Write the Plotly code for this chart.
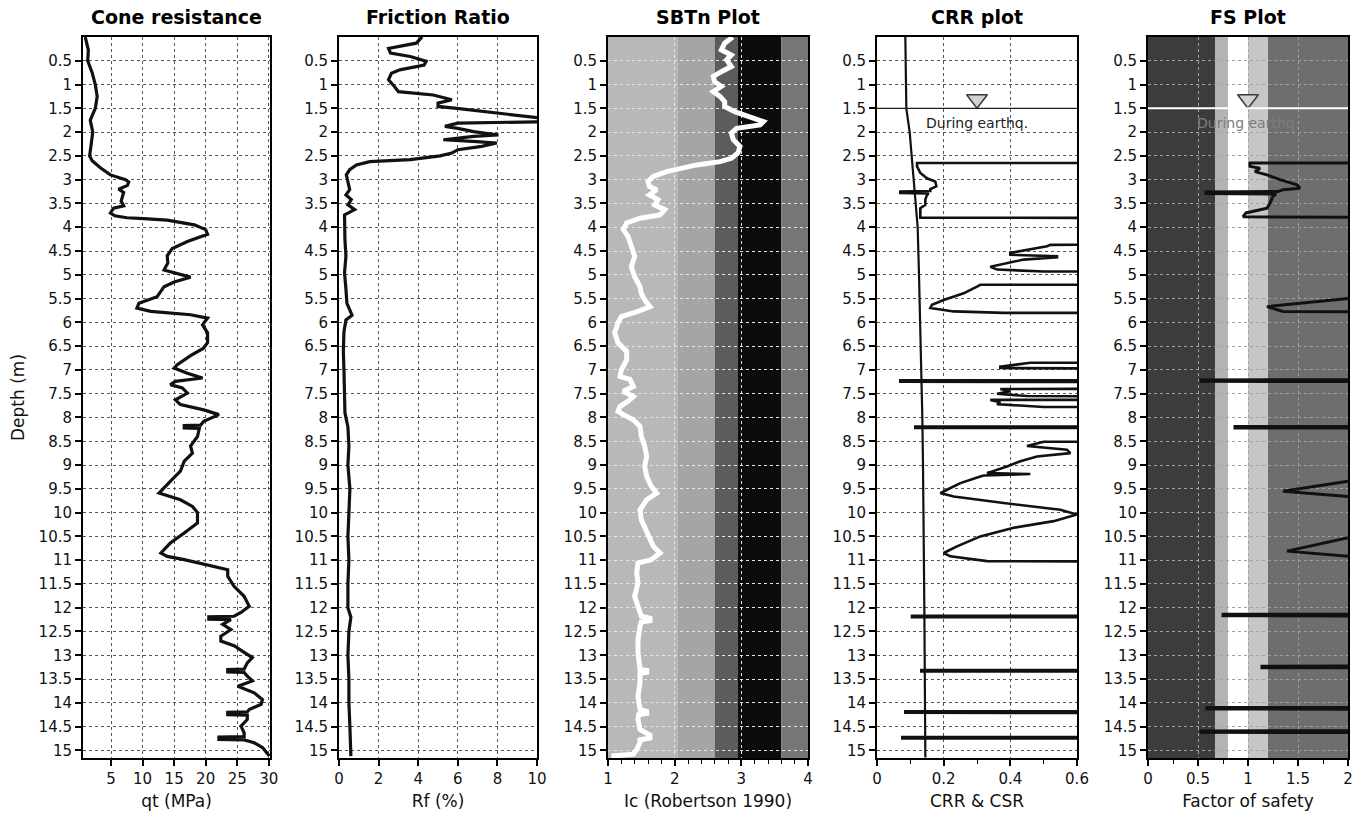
import plotly.graph_objects as go

# ---------------- data ----------------
qt_depth = [0.0, 0.27, 0.5, 0.75, 1.0, 1.25, 1.5, 1.75, 2.0, 2.25, 2.5, 2.6, 2.75, 2.9, 3.0, 3.05, 3.12,
            3.2, 3.27, 3.45, 3.55, 3.6, 3.7, 3.76, 3.8, 3.82, 3.85, 3.95, 4.05, 4.15, 4.3, 4.45, 4.6,
            4.75, 4.9, 5.05, 5.15, 5.25, 5.46, 5.6, 5.7, 5.77, 5.84, 5.91, 6.05, 6.22, 6.43, 6.55, 6.7,
            6.89, 6.96, 7.07, 7.17, 7.24, 7.31, 7.38, 7.49, 7.63, 7.73, 7.84, 7.94, 8.08, 8.16, 8.17,
            8.22, 8.23, 8.4, 8.6, 8.75, 8.92, 9.13, 9.3, 9.48, 9.59, 9.73, 9.87, 10.0, 10.22, 10.43,
            10.64, 10.85, 10.92, 10.99, 11.13, 11.2, 11.34, 11.55, 11.76, 11.97, 12.1, 12.18, 12.19,
            12.24, 12.25, 12.35, 12.46, 12.6, 12.7, 12.8, 12.94, 13.05, 13.16, 13.29, 13.3, 13.35,
            13.36, 13.44, 13.54, 13.65, 13.79, 13.93, 14.03, 14.14, 14.19, 14.2, 14.25, 14.26, 14.35,
            14.49, 14.63, 14.71, 14.72, 14.77, 14.78, 14.84, 14.94, 15.04, 15.12]
qt_mpa = [0.9, 1.4, 1.3, 2.0, 2.5, 2.8, 2.5, 1.7, 2.1, 1.8, 1.6, 2.0, 3.3, 4.9, 7.3, 7.8, 7.6,
          6.2, 7.0, 6.6, 7.0, 5.4, 4.9, 5.6, 7.5, 10.2, 13.9, 18.2, 20.0, 20.3, 17.1, 14.7, 13.9,
          14.0, 13.4, 17.6, 15.0, 13.4, 12.3, 9.4, 9.1, 11.3, 17.6, 20.3, 19.5, 20.3, 20.3, 19.6, 17.6,
          15.5, 15.0, 17.1, 19.5, 15.2, 14.4, 16.3, 17.1, 15.2, 16.0, 19.7, 22.1, 19.7, 19.2, 16.6,
          16.6, 19.0, 18.7, 17.6, 17.9, 16.6, 16.0, 14.7, 13.4, 12.6, 16.0, 17.9, 18.7, 18.7, 16.6,
          14.4, 12.9, 13.9, 16.6, 21.3, 23.5, 23.5, 24.5, 26.1, 26.9, 25.6, 24.5, 20.5,
          20.5, 24.0, 22.7, 24.0, 22.4, 22.4, 24.5, 26.1, 27.4, 26.6, 26.1, 23.5, 23.5,
          26.1, 26.6, 27.4, 25.1, 27.7, 29.0, 28.8, 26.9, 26.6, 23.5, 23.5, 26.6, 26.6,
          25.6, 26.1, 26.1, 22.1, 22.1, 26.1, 27.7, 29.0, 29.6, 30.1]

rf_depth = [0.0, 0.13, 0.24, 0.34, 0.41, 0.51, 0.59, 0.69, 0.76, 0.9, 1.04, 1.15, 1.22, 1.29, 1.32,
            1.39, 1.46, 1.5, 1.57, 1.64, 1.71, 1.78, 1.81, 1.88, 1.92, 1.99, 2.06, 2.09, 2.16, 2.2,
            2.23, 2.3, 2.37, 2.44, 2.5, 2.58, 2.62, 2.69, 2.79, 2.9, 3.04, 3.21, 3.32, 3.42, 3.53,
            3.63, 3.74, 3.98, 4.26, 4.61, 4.96, 5.3, 5.6, 5.85, 5.95, 6.2, 6.6, 7.0, 7.5, 7.9, 8.2,
            8.6, 9.0, 9.5, 10.0, 10.5, 11.0, 11.5, 12.0, 12.2, 12.5, 13.0, 13.5, 14.0, 14.5, 15.0, 15.12]
rf_pct = [4.2, 3.9, 2.5, 2.6, 3.6, 4.4, 4.3, 3.07, 2.65, 2.5, 2.8, 3.0, 4.76, 5.44, 5.7,
          5.0, 5.0, 5.95, 7.3, 8.8, 10.3, 10.5, 6.0, 5.35, 6.0, 6.8, 8.05, 6.8, 5.27, 6.96,
          7.97, 7.2, 6.0, 5.7, 5.1, 3.6, 1.55, 0.88, 0.54, 0.37, 0.45, 0.54, 0.35, 0.62, 0.45,
          0.79, 0.28, 0.28, 0.3, 0.35, 0.28, 0.35, 0.4, 0.66, 0.35, 0.25, 0.22, 0.25, 0.28, 0.3, 0.45,
          0.5, 0.45, 0.55, 0.5, 0.45, 0.5, 0.45, 0.45, 0.6, 0.5, 0.45, 0.5, 0.5, 0.55, 0.6, 0.6]

ic_depth = [0.0, 0.13, 0.27, 0.38, 0.48, 0.62, 0.73, 0.83, 0.94, 1.04, 1.15, 1.25, 1.36, 1.46, 1.57,
            1.67, 1.78, 1.85, 1.92, 2.02, 2.16, 2.3, 2.44, 2.55, 2.62, 2.69, 2.76, 2.83, 2.93, 3.04,
            3.14, 3.21, 3.32, 3.42, 3.53, 3.63, 3.74, 3.81, 3.91, 4.05, 4.19, 4.4, 4.61, 4.83, 5.04,
            5.25, 5.39, 5.53, 5.67, 5.77, 5.88, 6.01, 6.22, 6.43, 6.61, 6.79, 7.0, 7.14, 7.2, 7.35,
            7.45, 7.56, 7.66, 7.77, 7.87, 7.94, 8.05, 8.19, 8.4, 8.6, 8.82, 9.03, 9.24, 9.45, 9.59,
            9.73, 9.94, 10.15, 10.43, 10.71, 10.85, 10.99, 11.06, 11.27, 11.48, 11.76, 11.97, 12.18,
            12.22, 12.27, 12.3, 12.39, 12.67, 12.94, 13.3, 13.32, 13.36, 13.38, 13.58, 13.86, 14.14,
            14.18, 14.22, 14.25, 14.35, 14.56, 14.68, 14.74, 14.78, 14.84, 14.98, 15.08, 15.12]
ic_val = [2.87, 2.75, 2.70, 2.85, 2.78, 2.85, 2.70, 2.58, 2.60, 2.70, 2.58, 2.68, 2.75, 2.75, 2.90,
          3.13, 3.33, 3.28, 2.93, 2.85, 2.88, 2.98, 2.95, 2.85, 2.68, 2.33, 2.13, 1.88, 1.68, 1.60,
          1.62, 1.73, 1.62, 1.75, 1.70, 1.85, 1.78, 1.48, 1.28, 1.23, 1.30, 1.35, 1.40, 1.35, 1.40,
          1.48, 1.50, 1.55, 1.63, 1.45, 1.20, 1.15, 1.10, 1.15, 1.28, 1.28, 1.20, 1.18, 1.33, 1.38,
          1.23, 1.38, 1.30, 1.18, 1.15, 1.23, 1.38, 1.48, 1.50, 1.55, 1.58, 1.55, 1.58, 1.65, 1.73,
          1.58, 1.48, 1.50, 1.58, 1.68, 1.78, 1.65, 1.45, 1.43, 1.45, 1.40, 1.45, 1.50,
          1.63, 1.63, 1.50, 1.48, 1.45, 1.45, 1.48, 1.58, 1.58, 1.48, 1.48, 1.45, 1.48,
          1.58, 1.58, 1.46, 1.45, 1.48, 1.63, 1.63, 1.48, 1.48, 1.43, 1.38, 1.05]

csr_depth = [0.0, 1.5, 2.0, 2.5, 3.0, 3.5, 4.0, 5.0, 6.0, 7.0, 8.0, 9.0, 10.0, 11.0, 12.0, 13.0, 14.0, 15.15]
csr_val = [0.085, 0.088, 0.098, 0.104, 0.112, 0.118, 0.122, 0.126, 0.130, 0.133, 0.136, 0.138, 0.140,
           0.141, 0.142, 0.143, 0.144, 0.145]

NL_CRR = 4.0   # clay-like / non-liquefiable -> off scale
crr_depth = [0.0, 2.64, 2.65, 2.72, 2.86, 2.97, 3.04, 3.14, 3.2, 3.24, 3.25, 3.28, 3.29, 3.32, 3.42,
             3.53, 3.6, 3.74, 3.8, 3.82, 4.36, 4.37, 4.4, 4.54, 4.58, 4.61, 4.63, 4.68, 4.79, 4.83,
             4.89, 4.93, 5.0, 5.2, 5.21, 5.25, 5.39, 5.53, 5.63, 5.7, 5.77, 5.8, 5.82, 6.84, 6.85,
             6.93, 6.96, 7.0, 7.08, 7.21, 7.22, 7.25, 7.26, 7.39, 7.4, 7.45, 7.5, 7.55, 7.57, 7.62,
             7.63, 7.68, 7.72, 7.78, 7.8, 8.18, 8.19, 8.22, 8.23, 8.5, 8.51, 8.6, 8.68, 8.75, 8.82,
             8.92, 9.03, 9.17, 9.19, 9.22, 9.24, 9.38, 9.52, 9.59, 9.66, 9.8, 9.94, 10.04, 10.18,
             10.25, 10.32, 10.5, 10.71, 10.85, 10.92, 11.02, 11.1, 12.16, 12.17, 12.2, 12.21, 13.3,
             13.31, 13.34, 13.35, 14.17, 14.18, 14.21, 14.22, 14.71, 14.72, 14.75, 14.76, 15.15]
crr_val = [NL_CRR, NL_CRR, 0.12, 0.12, 0.13, 0.15, 0.175, 0.178, 0.16, 0.16, 0.07, 0.07, 0.155, 0.15, 0.145,
           0.145, 0.13, 0.13, 0.13, NL_CRR, NL_CRR, 0.52, 0.51, 0.40, 0.40, 0.54, 0.54, 0.44, 0.36, 0.34,
           0.36, 0.50, NL_CRR, NL_CRR, 0.31, 0.30, 0.26, 0.20, 0.165, 0.16, 0.23, 0.38, NL_CRR, NL_CRR, 0.46,
           0.37, 0.37, 0.53, NL_CRR, NL_CRR, 0.07, 0.07, NL_CRR, NL_CRR, 0.37, 0.40, 0.36, 0.45, NL_CRR, NL_CRR,
           0.34, 0.37, 0.36, 0.50, NL_CRR, NL_CRR, 0.115, 0.115, NL_CRR, NL_CRR, 0.50, 0.45, 0.57, 0.58, 0.48,
           0.43, 0.39, 0.33, 0.46, 0.32, 0.31, 0.25, 0.21, 0.19, 0.23, 0.38, 0.55, 0.60, 0.53,
           0.47, 0.41, 0.31, 0.24, 0.20, 0.22, 0.33, NL_CRR, NL_CRR, 0.105, 0.105, NL_CRR, NL_CRR,
           0.133, 0.133, NL_CRR, NL_CRR, 0.085, 0.085, NL_CRR, NL_CRR, 0.076, 0.076, NL_CRR, NL_CRR]

NL_FS = 5.0    # non-liquefiable -> off scale
fs_depth = [0.0, 2.64, 2.65, 2.72, 2.76, 2.83, 2.9, 3.0, 3.11, 3.18, 3.21, 3.25, 3.26, 3.29, 3.3, 3.35,
            3.49, 3.6, 3.7, 3.78, 3.82, 5.48, 5.5, 5.67, 5.77, 5.8, 5.82, 7.2, 7.21, 7.24, 7.25, 8.18,
            8.19, 8.22, 8.23, 9.33, 9.34, 9.55, 9.66, 9.67, 10.52, 10.53, 10.81, 10.92, 10.93, 12.13,
            12.14, 12.17, 12.18, 13.22, 13.23, 13.26, 13.27, 14.09, 14.1, 14.13, 14.14, 14.58, 14.59,
            14.62, 14.63, 15.15]
fs_val = [NL_FS, NL_FS, 1.02, 1.02, 1.12, 1.07, 1.19, 1.32, 1.49, 1.52, 1.35, 1.30, 0.58, 0.58, 1.28, 1.25,
          1.22, 1.19, 0.98, 0.95, NL_FS, NL_FS, 2.0, 1.19, 1.35, 2.0, NL_FS, NL_FS, 0.53, 0.53, NL_FS, NL_FS,
          0.87, 0.87, NL_FS, NL_FS, 2.0, 1.35, 2.0, NL_FS, NL_FS, 2.0, 1.39, 2.0, NL_FS, NL_FS,
          0.75, 0.75, NL_FS, NL_FS, 1.14, 1.14, NL_FS, NL_FS, 0.59, 0.59, NL_FS, NL_FS, 0.53,
          0.53, NL_FS, NL_FS]

gwt_depth = 1.5
gwt_label = "During earthq."
gwt_marker_x = {"crr": 0.3, "fs": 1.0}

sbt_bounds = [1.0, 2.05, 2.6, 2.95, 3.6, 4.0]
fs_bounds = [0.0, 0.67, 0.8, 1.0, 1.2, 2.0]

titles = ["Cone resistance", "Friction Ratio", "SBTn Plot", "CRR plot", "FS Plot"]
xtitles = ["qt (MPa)", "Rf (%)", "Ic (Robertson 1990)", "CRR & CSR", "Factor of safety"]
depth_ticks = [0.5, 1, 1.5, 2, 2.5, 3, 3.5, 4, 4.5, 5, 5.5, 6, 6.5, 7, 7.5, 8, 8.5, 9, 9.5, 10,
               10.5, 11, 11.5, 12, 12.5, 13, 13.5, 14, 14.5, 15]

# ---------------- styling / layout ----------------
W, H = 1365, 816
FONT = "DejaVu Sans"
lefts = [83, 339, 608, 877, 1148]
rights = [270, 537, 808, 1077, 1348]
top_px, bot_px = 37, 758
xranges = [[0.55, 30.2], [0, 10], [1, 4], [0, 0.6], [0, 2]]
xdtick = [5, 2, 1, 0.2, 0.5]
xtick0 = [0, 0, 1, 0, 0]
xminor = [None, None, 0.2, 0.1, 0.25]
gridcols = ["#555555", "#555555", "#e6e6e6", "#555555", "#a0a0a0"]
sbt_colors = ["#b8b8b8", "#a5a5a5", "#5c5c5c", "#0c0c0c", "#767676"]
fs_colors = ["#3c3c3c", "#b3b3b3", "#ffffff", "#c6c6c6", "#6e6e6e"]
YRANGE = [15.16, 0]
TICKSZ = 15

fig = go.Figure()

def ax(i, kind):
    n = "" if i == 0 else str(i + 1)
    return kind + n

line_col = "#111111"
fig.add_trace(go.Scatter(x=qt_mpa, y=qt_depth, mode="lines", line=dict(color=line_col, width=3.2),
                         xaxis=ax(0, "x"), yaxis=ax(0, "y")))
fig.add_trace(go.Scatter(x=rf_pct, y=rf_depth, mode="lines", line=dict(color=line_col, width=3.2),
                         xaxis=ax(1, "x"), yaxis=ax(1, "y")))
fig.add_trace(go.Scatter(x=ic_val, y=ic_depth, mode="lines", line=dict(color="#ffffff", width=5),
                         xaxis=ax(2, "x"), yaxis=ax(2, "y")))
fig.add_trace(go.Scatter(x=csr_val, y=csr_depth, mode="lines", line=dict(color=line_col, width=2.2),
                         xaxis=ax(3, "x"), yaxis=ax(3, "y")))
fig.add_trace(go.Scatter(x=crr_val, y=crr_depth, mode="lines", line=dict(color=line_col, width=2.6),
                         xaxis=ax(3, "x"), yaxis=ax(3, "y")))
fig.add_trace(go.Scatter(x=fs_val, y=fs_depth, mode="lines", line=dict(color=line_col, width=3),
                         xaxis=ax(4, "x"), yaxis=ax(4, "y")))

# water table markers
for i, key in [(3, "crr"), (4, "fs")]:
    fig.add_trace(go.Scatter(x=[gwt_marker_x[key]], y=[gwt_depth - 0.19], mode="markers",
                             marker=dict(symbol="triangle-down", size=18, color="#d2d2d2",
                                         line=dict(color="#3a3a3a", width=1.5)),
                             xaxis=ax(i, "x"), yaxis=ax(i, "y")))

shapes = []
for k in range(len(sbt_colors)):
    shapes.append(dict(type="rect", xref="x3", yref="y3 domain", x0=sbt_bounds[k], x1=sbt_bounds[k + 1],
                       y0=0, y1=1, fillcolor=sbt_colors[k], line=dict(width=0), layer="below"))
for k in range(len(fs_colors)):
    shapes.append(dict(type="rect", xref="x5", yref="y5 domain", x0=fs_bounds[k], x1=fs_bounds[k + 1],
                       y0=0, y1=1, fillcolor=fs_colors[k], line=dict(width=0), layer="below"))
shapes.append(dict(type="line", xref="x4 domain", yref="y4", x0=0, x1=1, y0=gwt_depth, y1=gwt_depth,
                   line=dict(color="#222222", width=1.3)))
shapes.append(dict(type="line", xref="x5 domain", yref="y5", x0=0, x1=1, y0=gwt_depth, y1=gwt_depth,
                   line=dict(color="#ffffff", width=2)))

annotations = []
for i in range(5):
    cx = (lefts[i] + rights[i]) / 2 / W
    annotations.append(dict(text="<b>" + titles[i] + "</b>", x=cx, y=1 - 17 / H, xref="paper", yref="paper",
                            showarrow=False, xanchor="center", yanchor="middle",
                            font=dict(family=FONT, size=19, color="#000")))
annotations.append(dict(text="Depth (m)", x=18 / W, y=1 - 398 / H, xref="paper", yref="paper",
                        showarrow=False, textangle=-90, xanchor="center", yanchor="middle",
                        font=dict(family=FONT, size=17, color="#111")))
annotations.append(dict(text=gwt_label, x=gwt_marker_x["crr"], y=gwt_depth + 0.3, xref="x4", yref="y4",
                        showarrow=False, xanchor="center", yanchor="middle",
                        font=dict(family=FONT, size=14, color="#222")))
annotations.append(dict(text=gwt_label, x=gwt_marker_x["fs"], y=gwt_depth + 0.3, xref="x5", yref="y5",
                        showarrow=False, xanchor="center", yanchor="middle",
                        font=dict(family=FONT, size=14, color="#7c7c7c")))

layout = dict(width=W, height=H, margin=dict(l=0, r=0, t=0, b=0), showlegend=False,
              paper_bgcolor="white", plot_bgcolor="white", shapes=shapes, annotations=annotations,
              font=dict(family=FONT, size=TICKSZ, color="#111"))

ylabels = [("%g" % v) for v in depth_ticks]
for i in range(5):
    xa = dict(domain=[lefts[i] / W, rights[i] / W], range=xranges[i], anchor=ax(i, "y"),
              tickmode="linear", tick0=xtick0[i], dtick=xdtick[i],
              showgrid=True, gridcolor=gridcols[i], griddash="dot", gridwidth=1,
              showline=True, linecolor="#000", linewidth=2, mirror=True, zeroline=False,
              ticks="outside", ticklen=6, tickwidth=1.5, tickcolor="#000",
              tickfont=dict(family=FONT, size=TICKSZ, color="#111"), automargin=False,
              title=dict(text=xtitles[i], font=dict(family=FONT, size=17, color="#111"), standoff=8))
    if xminor[i]:
        xa["minor"] = dict(ticks="outside", ticklen=4, tickwidth=1.2, tickcolor="#000",
                           dtick=xminor[i], tick0=xtick0[i], showgrid=False)
    ya = dict(domain=[1 - bot_px / H, 1 - top_px / H], range=YRANGE, anchor=ax(i, "x"),
              tickmode="array", tickvals=depth_ticks, ticktext=ylabels,
              showgrid=True, gridcolor=gridcols[i], griddash="dot", gridwidth=1,
              showline=True, linecolor="#000", linewidth=2, mirror=True, zeroline=False,
              ticks="outside", ticklen=6, tickwidth=1.5, tickcolor="#000",
              tickfont=dict(family=FONT, size=TICKSZ, color="#111"), automargin=False)
    layout[ax(i, "xaxis")] = xa
    layout[ax(i, "yaxis")] = ya

fig.update_layout(**layout)
fig.write_html("out.html", config={"displayModeBar": False},
               post_script="document.body.style.margin='0px';")
